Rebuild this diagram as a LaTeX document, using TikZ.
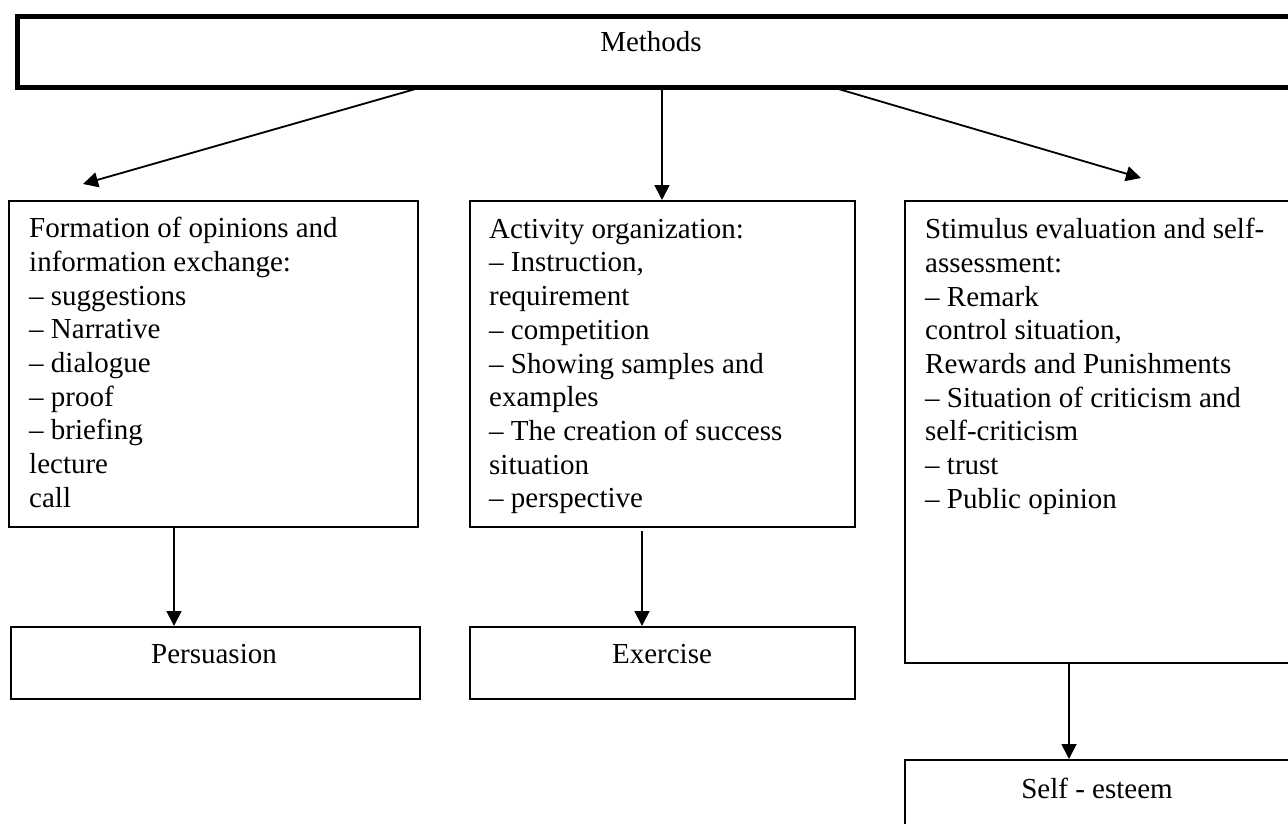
\documentclass[tikz,border=0pt]{standalone}
\usepackage{fontspec}
\setmainfont{Liberation Serif}
\usetikzlibrary{arrows.meta}
\begin{document}
\begin{tikzpicture}[x=1pt,y=-1pt,
  box/.style={draw, line width=1.8pt, anchor=north west, inner sep=0pt},
  txt/.style={anchor=north west, align=left, inner sep=0pt, font=\fontsize{29}{33.7}\selectfont},
  lbl/.style={anchor=base, inner sep=0pt, font=\fontsize{29}{33.7}\selectfont},
  arr/.style={-{Triangle[length=15pt,width=15pt]}, line width=1.8pt}]
\clip (0,0) rectangle (1288,824);
\fill[white] (0,0) rectangle (1288,824);
% Methods
\node[box, line width=5pt, minimum width=1300pt, minimum height=71.5pt] (methods) at (14.5,14) {};
\node[lbl] (methodsT) at (651,52) {Methods};
% second row boxes
\node[box, minimum width=409pt, minimum height=326pt] (b1) at (8,200) {};
\node[box, minimum width=385pt, minimum height=326pt] (b2) at (469,200) {};
\node[box, minimum width=400pt, minimum height=462pt] (b3) at (904,200) {};
\node[txt] (b1t) at (29,217) {\rule{0pt}{20pt}Formation of opinions and\\information exchange:\\– suggestions\\– Narrative\\– dialogue\\– proof\\– briefing\\lecture\\call};
\node[txt] (b2t) at (489,218) {\rule{0pt}{20pt}Activity organization:\\– Instruction,\\requirement\\– competition\\– Showing samples and\\examples\\– The creation of success\\situation\\– perspective};
\node[txt] (b3t) at (925,218) {\rule{0pt}{20pt}Stimulus evaluation and self-\\assessment:\\– Remark\\control situation,\\Rewards and Punishments\\– Situation of criticism and\\self-criticism\\– trust\\– Public opinion};
% third row boxes
\node[box, minimum width=409pt, minimum height=72pt] (pers) at (10,626) {};
\node[lbl] (persT) at (214,663) {Persuasion};
\node[box, minimum width=385pt, minimum height=72pt] (exer) at (469,626) {};
\node[lbl] (exerT) at (662,663) {Exercise};
\node[box, minimum width=400pt, minimum height=100pt] (self) at (904,759) {};
\node[lbl] (selfT) at (1097,798) {Self - esteem};
% arrows from Methods
\coordinate (mL) at (419,88);
\coordinate (tL) at (83,184);
\coordinate (mM) at (662,88);
\coordinate (mR) at (835,88);
\coordinate (tR) at (1141,178);
\draw[arr] (mL) -- (tL);
\draw[arr] (mM) -- (mM |- b2.north);
\draw[arr] (mR) -- (tR);
% arrows to results
\draw[arr] ([xshift=166pt]b1.south west) -- ([xshift=164pt]pers.north west);
\draw[arr] ([xshift=173pt,yshift=-3pt]b2.south west) -- ([xshift=173pt]exer.north west);
\draw[arr] ([xshift=165pt]b3.south west) -- ([xshift=165pt]self.north west);
\end{tikzpicture}
\end{document}
